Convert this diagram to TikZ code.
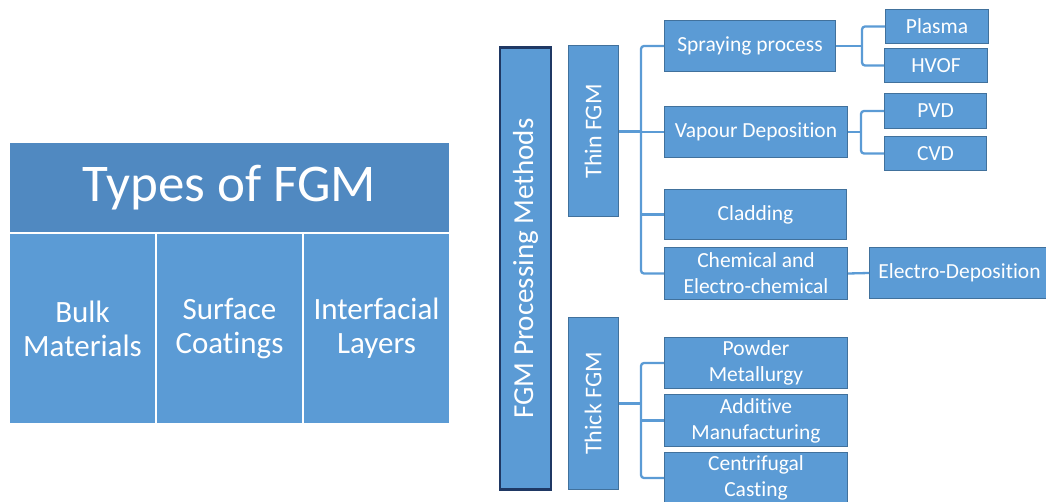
\documentclass[tikz,border=0pt]{standalone}
\usepackage{fontspec}
\setmainfont{Carlito}[Ligatures=NoCommon]
\definecolor{boxfill}{HTML}{5B9BD5}
\definecolor{boxline}{HTML}{41719C}
\definecolor{titlefill}{HTML}{5089C1}
\definecolor{navy}{HTML}{1F3864}
\begin{document}
\begin{tikzpicture}[x=1pt,y=-1pt,
  box/.style={draw=boxline, fill=boxfill, line width=1pt, text=white, inner sep=0pt, align=center,
    font=\fontsize{21.5}{26}\selectfont},
  tbox/.style={draw=white, fill=boxfill, line width=1pt, text=white, inner sep=0pt, align=center,
    font=\fontsize{31}{34}\selectfont, anchor=north west, minimum width=146, minimum height=190},
  conn/.style={draw=boxfill, line width=2.3pt, rounded corners=3pt}]
\useasboundingbox (0,0) rectangle (1046,502);
% left panel
\node[tbox, fill=titlefill, minimum width=440, minimum height=90, font=\fontsize{53}{60}\selectfont] (types) at (9,142) {Types of FGM};
\node[tbox] (bulk) at (9,233) {Bulk\\Materials};
\node[tbox] (surf) at (156,233) {Surface\\Coatings};
\node[tbox] (inter) at (303,233) {Interfacial\\Layers};
% right panel
\node[box, draw=navy, line width=2.4pt, rotate=90, minimum width=442, minimum height=51, font=\fontsize{29}{32}\selectfont] (proc) at (525.5,268.5) {FGM Processing Methods};
\node[box, rotate=90, minimum width=171, minimum height=50, font=\fontsize{24}{28}\selectfont] (thin) at (593,131.5) {Thin FGM};
\node[box, rotate=90, minimum width=171, minimum height=50, font=\fontsize{24}{28}\selectfont] (thick) at (593,403.5) {Thick FGM};
\node[box, anchor=north west, minimum width=171, minimum height=51] (spray) at (664,20) {Spraying process};
\node[box, anchor=north west, minimum width=183, minimum height=51] (vap) at (664,106) {Vapour Deposition};
\node[box, anchor=north west, minimum width=182, minimum height=50] (clad) at (664,189) {Cladding};
\node[box, anchor=north west, minimum width=183, minimum height=52] (chem) at (664,247) {Chemical and\\Electro-chemical};
\node[box, anchor=north west, minimum width=183, minimum height=51] (powder) at (664,337) {Powder\\Metallurgy};
\node[box, anchor=north west, minimum width=183, minimum height=52] (add) at (664,394) {Additive\\Manufacturing};
\node[box, anchor=north west, minimum width=183, minimum height=51] (cent) at (664,452) {Centrifugal\\Casting};
\node[box, anchor=north west, minimum width=103, minimum height=34] (plasma) at (885,9) {Plasma};
\node[box, anchor=north west, minimum width=103, minimum height=34] (hvof) at (884,48) {HVOF};
\node[box, anchor=north west, minimum width=102, minimum height=35] (pvd) at (884,93) {PVD};
\node[box, anchor=north west, minimum width=102, minimum height=34] (cvd) at (884,136) {CVD};
\node[box, anchor=north west, minimum width=180, minimum height=51] (elec) at (869,247) {Electro-Deposition};
% connectors
\draw[conn] (thin.south) -- ++(23,0);
\draw[conn] (spray.west) -- ++(-23,0) |- (chem.west);
\draw[conn] (vap.west) -- ++(-23,0);
\draw[conn] (clad.west) -- ++(-23,0);
\draw[conn] (thick.south) -- ++(23,0);
\draw[conn] (powder.west) -- ++(-23,0) |- (cent.west);
\draw[conn] (add.west) -- ++(-23,0);
\draw[conn] (spray.east) -- ++(27,0);
\draw[conn] (plasma.west) -- ++(-23,0) |- (hvof.west);
\draw[conn] (vap.east) -- ++(14,0);
\draw[conn] (pvd.west) -- ++(-23,0) |- (cvd.west);
\draw[conn] (chem.east) -- (elec.west);
\end{tikzpicture}
\end{document}
